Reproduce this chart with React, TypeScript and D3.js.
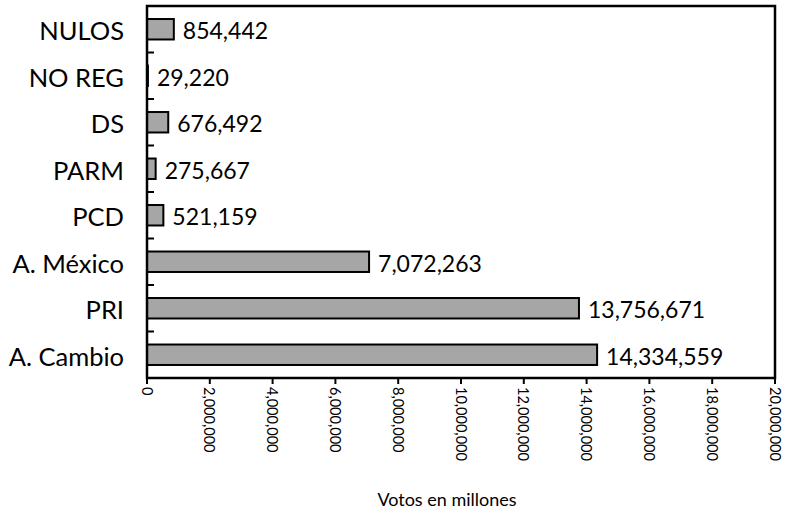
import React from "react";
import * as d3 from "d3";

const categories = ["NULOS", "NO REG", "DS", "PARM", "PCD", "A. México", "PRI", "A. Cambio"];
const votes = [854442, 29220, 676492, 275667, 521159, 7072263, 13756671, 14334559];
const xTicks = [0, 2000000, 4000000, 6000000, 8000000, 10000000, 12000000, 14000000, 16000000, 18000000, 20000000];
const axisTitle = "Votos en millones";

const W = 785, H = 514;
const L = 147, R = 775, T = 6, B = 378;
const FONT = "Lato, 'Open Sans', sans-serif";

export default function App() {
  const x = d3.scaleLinear().domain([0, 20000000]).range([L, R]);
  const y = d3.scaleBand<string>().domain(categories).range([T, B]).paddingInner(0.56).paddingOuter(0.28);
  const bandStep = (B - T) / categories.length;
  const fmt = d3.format(",");
  return (
    <svg width={W} height={H} style={{ position: "absolute", left: 0, top: 0 }} fontFamily={FONT}>
      <rect x={0} y={0} width={W} height={H} fill="white" />
      {categories.map((c, i) => (
        <g key={c}>
          <rect x={x(0)} y={y(c)!} width={Math.max(x(votes[i]) - x(0), 0.5)} height={y.bandwidth()} fill="#a6a6a6" stroke="#000" strokeWidth={2} />
          <text x={124} y={y(c)! + y.bandwidth() / 2 + 1} textAnchor="end" dominantBaseline="central" fontSize={25.5}>{c}</text>
          <text x={x(votes[i]) + 9} y={y(c)! + y.bandwidth() / 2 + 1} dominantBaseline="central" fontSize={23}>{fmt(votes[i])}</text>
        </g>
      ))}
      {d3.range(1, categories.length + 1).map((k) => (
        <line key={k} x1={L} x2={L + 7} y1={T + k * bandStep} y2={T + k * bandStep} stroke="#000" strokeWidth={2} />
      ))}
      <rect x={L} y={T} width={R - L} height={B - T} fill="none" stroke="#000" strokeWidth={2.5} />
      {xTicks.map((t) => (
        <g key={t}>
          <line x1={x(t)} x2={x(t)} y1={B} y2={B + 6} stroke="#000" strokeWidth={2} />
          <text transform={`translate(${x(t)},${B + 9}) rotate(90)`} dominantBaseline="central" fontSize={14.5}>{fmt(t)}</text>
        </g>
      ))}
      <text x={447} y={506} textAnchor="middle" fontSize={18}>{axisTitle}</text>
    </svg>
  );
}
